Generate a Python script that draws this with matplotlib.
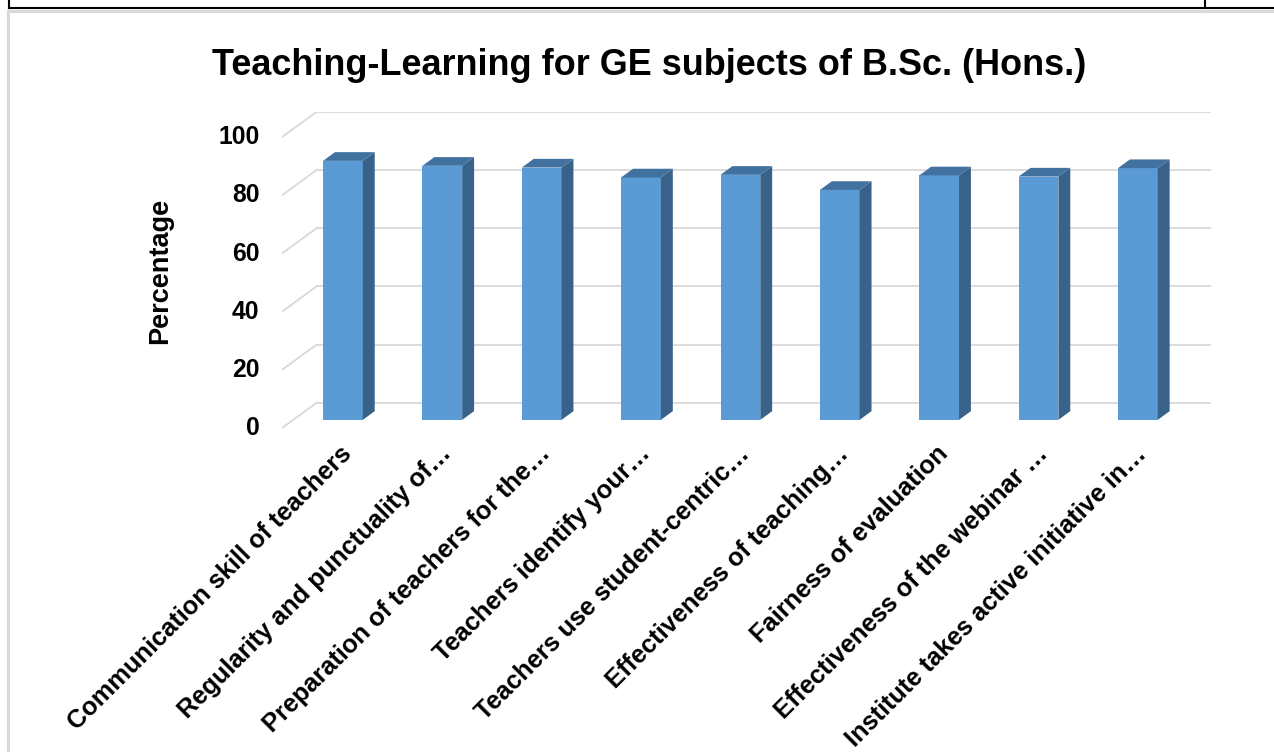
import matplotlib
matplotlib.use("Agg")
import matplotlib.pyplot as plt
from matplotlib.patches import Polygon
from matplotlib.lines import Line2D

plt.rcParams['font.family'] = ['Liberation Sans', 'DejaVu Sans']
plt.rcParams['font.weight'] = 'bold'

# ---- data ----
categories = [
    "Communication skill of teachers",
    "Regularity and punctuality of…",
    "Preparation of teachers for the…",
    "Teachers identify your…",
    "Teachers use student-centric…",
    "Effectiveness of teaching…",
    "Fairness of evaluation",
    "Effectiveness of the webinar …",
    "Institute takes active initiative in…",
]
values = [89.0, 87.3, 86.7, 83.3, 84.2, 79.0, 84.0, 83.6, 86.5]
yticks = [0, 20, 40, 60, 80, 100]
title = "Teaching-Learning for GE subjects of B.Sc. (Hons.)"
ylabel = "Percentage"

# ---- style ----
W, H = 1274, 752
DPI = 100
front_c = "#5B9BD5"
side_c = "#38628A"
top_c = "#41729F"
grid_c = "#D9D9D9"

fig = plt.figure(figsize=(W / DPI, H / DPI), dpi=DPI)
fig.patch.set_facecolor("white")

# axes placement (pixels): front plane x -0.5..8.5 -> 281.7..1176, y 0..100 -> 428.3..137.3
left_px, right_px = 281.7, 1211.0
bottom_px, top_px = 428.3, 111.7
ax = fig.add_axes([left_px / W, 1 - bottom_px / H,
                   (right_px - left_px) / W, (bottom_px - top_px) / H])

n = len(categories)
px_per_x = (1176 - 281.7) / n
px_per_y = (428.3 - 137.3) / 100.0
dx = 35.0 / px_per_x        # depth offset in x data units
dy = 25.6 / px_per_y        # depth offset in y data units
ax.set_xlim(-0.5, n - 0.5 + dx)
ax.set_ylim(0, 100 + dy)
ax.axis('off')

# gridlines: back wall + left side wall
for v in yticks:
    ax.add_line(Line2D([-0.5 + dx, n - 0.5 + dx], [v + dy, v + dy],
                       color=grid_c, lw=1.3, zorder=1))
    ax.add_line(Line2D([-0.5, -0.5 + dx], [v, v + dy],
                       color=grid_c, lw=1.3, zorder=1))

# 3D-like bars
f0, f1 = 0.33, 0.67
bw = 0.40
ddx, ddy = (f1 - f0) * dx, (f1 - f0) * dy
for i, v in enumerate(values):
    xc = i + f0 * dx
    xl, xr = xc - bw / 2, xc + bw / 2
    b0 = f0 * dy
    t = b0 + v
    ax.bar(xc, v, bottom=b0, width=bw, color=front_c, edgecolor='none', zorder=3)
    ax.add_patch(Polygon([(xr, b0), (xr + ddx, b0 + ddy), (xr + ddx, t + ddy), (xr, t)],
                         closed=True, facecolor=side_c, edgecolor='none', zorder=3))
    ax.add_patch(Polygon([(xl, t), (xr, t), (xr + ddx, t + ddy), (xl + ddx, t + ddy)],
                         closed=True, facecolor=top_c, edgecolor='none', zorder=3))

# y tick labels (front plane)
for v in yticks:
    ax.annotate(str(v), xy=(-0.5, v), xycoords='data',
                xytext=(-16, 0), textcoords='offset points',
                ha='right', va='center', fontsize=17.8, fontweight='bold', color='black')

# category labels
for i, lab in enumerate(categories):
    ax.annotate(lab, xy=(i, 0), xycoords='data',
                xytext=(6, -9.5), textcoords='offset points',
                ha='right', va='top', rotation=45, rotation_mode='anchor',
                fontsize=18.3, fontweight='bold', color='black')

# y label
fig.text(160 / W, 1 - 271 / H, ylabel, rotation=90, ha='center', va='center',
         fontsize=19.5, fontweight='bold', color='black')

# title
fig.text(649 / W, 1 - 75 / H, title, ha='center', va='baseline',
         fontsize=25.9, fontweight='bold', color='black')

# page frame lines
def fline(x0, y0, x1, y1, c, lw):
    fig.add_artist(Line2D([x0 / W, x1 / W], [1 - y0 / H, 1 - y1 / H],
                          color=c, lw=lw, transform=fig.transFigure))

fline(8, 11, W, 11, grid_c, 2.2)
fline(8, 11, 8, H, grid_c, 2.2)
fline(9, 8, W, 8, "black", 1.5)
fline(9, 0, 9, 8, "black", 1.5)
fline(1205, 0, 1205, 8, "black", 1.5)

fig.savefig("out.png", dpi=DPI, facecolor="white")
